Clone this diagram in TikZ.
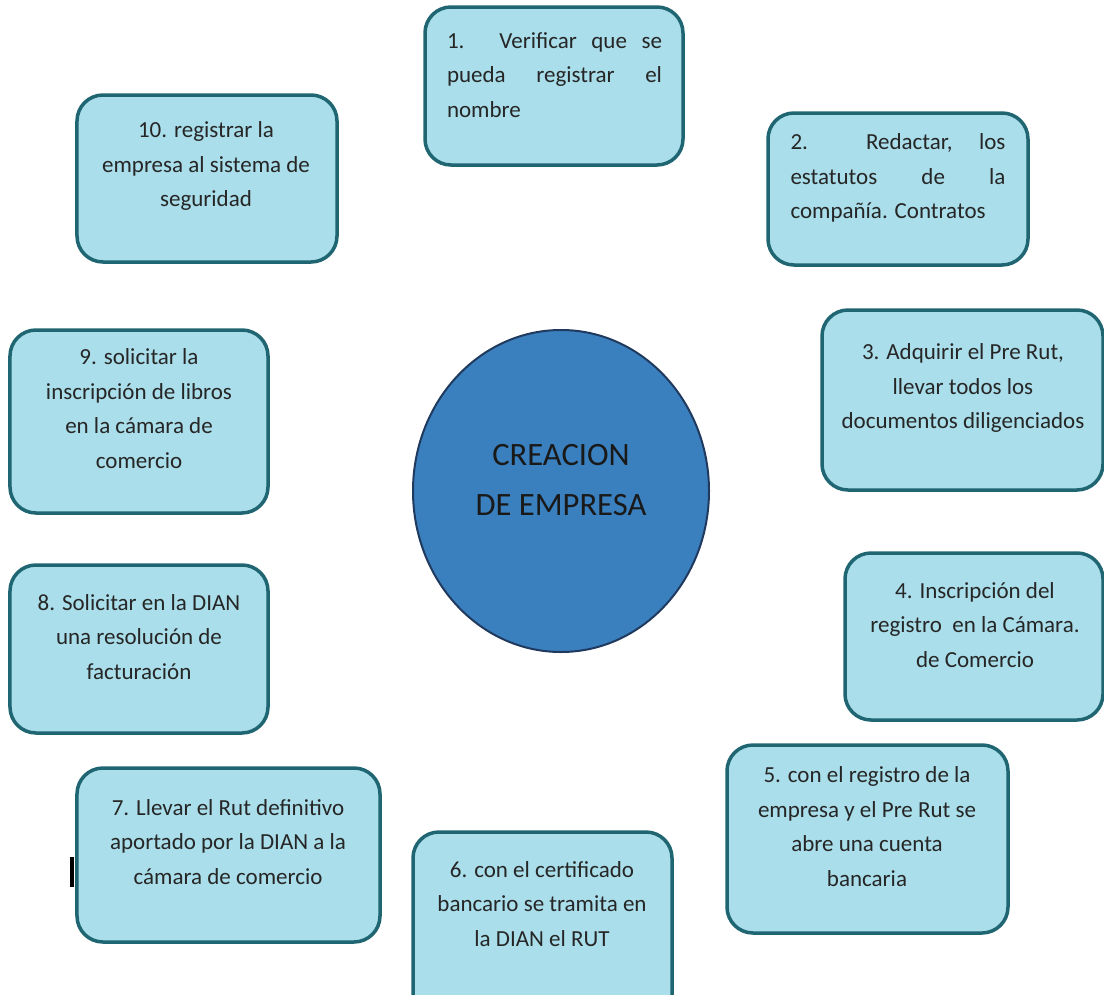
\documentclass[tikz,border=0pt]{standalone}
\usepackage{fontspec}
\setmainfont{Carlito}
\usetikzlibrary{shapes.geometric}
\definecolor{boxfill}{HTML}{A9DEEA}
\definecolor{boxline}{HTML}{1F6572}
\definecolor{circfill}{HTML}{3B80BE}
\definecolor{circline}{HTML}{1F3A5E}
\definecolor{txt}{HTML}{262626}
\tikzset{
  stepbox/.style={draw=boxline, line width=3.5bp, fill=boxfill, rounded corners=26bp, inner sep=0pt},
  steptext/.style={text=txt, inner sep=0pt, align=center, font=\fontsize{23bp}{34.5bp}\selectfont},
  centre/.style={ellipse, draw=circline, line width=2bp, fill=circfill, inner sep=0pt},
}
\newcommand{\jline}[1]{\makebox[215bp][s]{#1}}
\begin{document}
\begin{tikzpicture}[x=1bp,y=-1bp]
\useasboundingbox (0,0) rectangle (1104,995);
% boxes
\node[stepbox, minimum width=258bp, minimum height=158bp] (b1) at (554,86) {};
\node[stepbox, minimum width=260bp, minimum height=152bp] (b2) at (898,189) {};
\node[stepbox, minimum width=281bp, minimum height=180bp] (b3) at (962.5,400) {};
\node[stepbox, minimum width=258bp, minimum height=167bp] (b4) at (974,636.5) {};
\node[stepbox, minimum width=281bp, minimum height=188bp] (b5) at (867.5,839) {};
\node[stepbox, minimum width=259bp, minimum height=190bp] (b6) at (542.5,927) {};
\node[stepbox, minimum width=303bp, minimum height=174bp] (b7) at (228.5,855) {};
\node[stepbox, minimum width=258bp, minimum height=168bp] (b8) at (139,649) {};
\node[stepbox, minimum width=258bp, minimum height=183bp] (b9) at (139,421.5) {};
\node[stepbox, minimum width=260bp, minimum height=167bp] (b10) at (207,178.5) {};
% centre
\node[centre, minimum width=296bp, minimum height=322bp] (c) at (561,491) {};
% texts
\node[steptext, align=left] (t1) at (554.5,75) {\jline{1. Verificar que se}\\\jline{pueda registrar el}\\nombre};
\node[steptext, align=left] (t2) at (898,178) {\jline{2. Redactar, los}\\\jline{estatutos de la}\\compañía. Contratos};
\node[steptext] (t3) at (963,388) {3. Adquirir el Pre Rut,\\llevar todos los\\documentos diligenciados};
\node[steptext] (t4) at (975,625) {4. Inscripción del\\registro\ \ en la Cámara.\\de Comercio};
\node[steptext] (t5) at (867,826.5) {5. con el registro de la\\empresa y el Pre Rut se\\abre una cuenta\\bancaria};
\node[steptext] (t6) at (542,904) {6. con el certificado\\bancario se tramita en\\la DIAN el RUT};
\node[steptext] (t7) at (228,842) {7. Llevar el Rut definitivo\\aportado por la DIAN a la\\cámara de comercio};
\node[steptext] (t8) at (139,637) {8. Solicitar en la DIAN\\una resolución de\\facturación};
\node[steptext] (t9) at (139,408.5) {9. solicitar la\\inscripción de libros\\en la cámara de\\comercio};
\node[steptext] (t10) at (206,166) {10. registrar la\\empresa al sistema de\\seguridad};
\node[inner sep=0pt, align=center, text=black!90, font=\fontsize{32.6bp}{50bp}\selectfont] (tc) at (561,480) {CREACION\\DE EMPRESA};
% stray mark
\fill[black] (70,857) rectangle (74,887);
\end{tikzpicture}
\end{document}
